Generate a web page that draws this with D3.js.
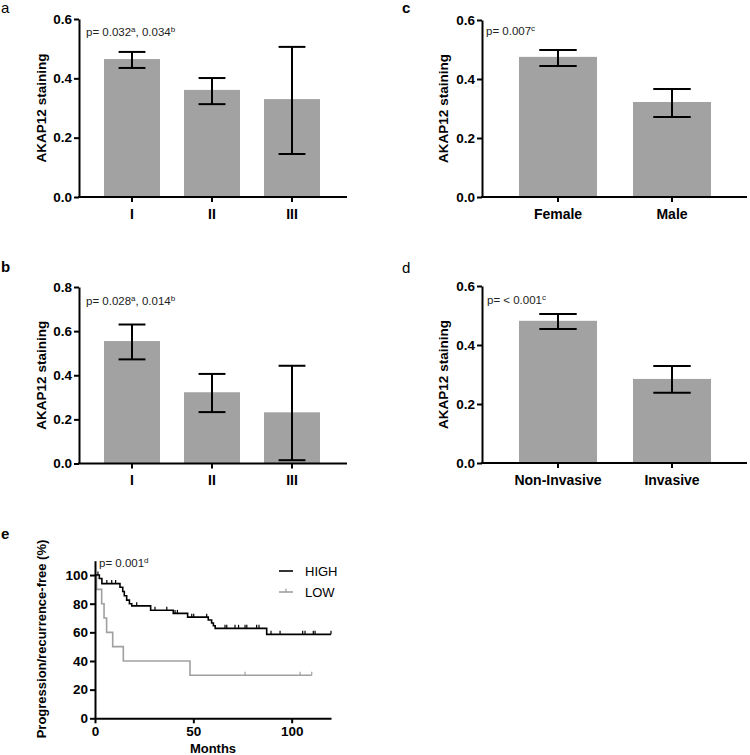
<!DOCTYPE html>
<html><head><meta charset="utf-8">
<script src="https://cdn.jsdelivr.net/npm/d3@7"></script>
<style>
body{margin:0;background:#fff;}
svg{display:block;font-family:"Liberation Sans",Arial,sans-serif;}
</style></head>
<body>
<svg id="chart" width="750" height="755"></svg>
<script>
// ---------- DATA ----------
const gradeCats = ["I", "II", "III"];
const aMean = [0.465, 0.361, 0.330];
const aUpper = [0.489, 0.401, 0.506];
const aLower = [0.435, 0.313, 0.145];
const aTicks = [0.0, 0.2, 0.4, 0.6];

const bMean = [0.555, 0.323, 0.232];
const bUpper = [0.630, 0.406, 0.443];
const bLower = [0.472, 0.233, 0.015];
const bTicks = [0.0, 0.2, 0.4, 0.6, 0.8];

const sexCats = ["Female", "Male"];
const cMean = [0.475, 0.322];
const cUpper = [0.498, 0.366];
const cLower = [0.444, 0.271];
const cTicks = [0.0, 0.2, 0.4, 0.6];

const invCats = ["Non-Invasive", "Invasive"];
const dMean = [0.482, 0.285];
const dUpper = [0.505, 0.329];
const dLower = [0.454, 0.238];
const dTicks = [0.0, 0.2, 0.4, 0.6];

// Kaplan-Meier: [month, % free] step points
const highSteps = [[0,100],[2.2,97.6],[3.5,94.0],[12.7,91.5],[14.1,88.5],[14.9,85.5],[16.1,82.5],[17.5,80.0],[18.7,78.5],[28.3,75.4],[39.8,73.2],[47.1,70.6],[57.6,68.6],[59.3,66.5],[60.2,64.6],[61.1,62.8],[87.3,58.6]];
const highEnd = 120;
const highCensor = [1.5,6,8.5,10.5,21.2,30.5,36.5,40.7,41.9,49.2,50.2,56.8,66.1,67,71.2,73,76.3,77.2,82.2,83.4,89.5,94.1,105.6,106.8,111,111.9,120];
const lowSteps = [[0,100],[0.8,90],[3.4,80],[4.6,70],[5.9,60],[9,50],[14.4,40],[48.3,30]];
const lowEnd = 110.2;
const lowCensor = [76.3,104.3,110.2];
const kmYTicks = [0,20,40,60,80,100];
const kmXTicks = [0,50,100];

// ---------- DRAW ----------
const svg = d3.select("#chart");
const BAR = "#a2a2a2";
const FONT_TICK = "13.5px";

function barPanel(o) {
  const g = svg.append("g");
  const y = d3.scaleLinear().domain(o.yDomain).range([o.y0, o.y1]);
  const x = d3.scaleBand().domain(o.cats).range(o.xRange).paddingInner(o.pi).paddingOuter(o.po);
  // bars
  g.selectAll("rect.bar").data(o.cats).join("rect")
    .attr("x", d => x(d)).attr("width", x.bandwidth())
    .attr("y", (d,i) => y(o.mean[i])).attr("height", (d,i) => y(0) - y(o.mean[i]))
    .attr("fill", BAR);
  // error bars
  const capW = x.bandwidth() * 0.48;
  o.cats.forEach((c,i) => {
    const cx = x(c) + x.bandwidth()/2;
    const eg = g.append("g").attr("stroke","#000").attr("stroke-width",2);
    eg.append("line").attr("x1",cx).attr("x2",cx).attr("y1",y(o.upper[i])).attr("y2",y(o.lower[i]));
    eg.append("line").attr("x1",cx-capW/2).attr("x2",cx+capW/2).attr("y1",y(o.upper[i])).attr("y2",y(o.upper[i]));
    eg.append("line").attr("x1",cx-capW/2).attr("x2",cx+capW/2).attr("y1",y(o.lower[i])).attr("y2",y(o.lower[i]));
  });
  // y axis
  const ya = g.append("g").attr("transform",`translate(${o.axisX},0)`)
    .call(d3.axisLeft(y).tickValues(o.ticks).tickFormat(d3.format(".1f")).tickSize(5).tickSizeOuter(0).tickPadding(2));
  ya.select(".domain").attr("stroke-width",2);
  ya.selectAll(".tick line").attr("stroke-width",2);
  ya.selectAll(".tick text").attr("font-size",FONT_TICK).attr("font-weight","bold").attr("font-family","Liberation Sans, Arial, sans-serif").attr("fill","#000");
  // x axis
  const xa = g.append("g").attr("transform",`translate(0,${y(0)})`)
    .call(d3.axisBottom(x).tickSize(5).tickSizeOuter(0).tickPadding(7));
  xa.select(".domain").remove();
  xa.selectAll(".tick line").attr("stroke-width",2);
  xa.selectAll(".tick text").attr("font-size","14px").attr("font-weight","bold").attr("font-family","Liberation Sans, Arial, sans-serif").attr("fill","#000");
  g.append("line").attr("x1",o.axisX-1).attr("x2",o.axisEnd).attr("y1",y(0)).attr("y2",y(0)).attr("stroke","#000").attr("stroke-width",2);
  // y label
  g.append("text").attr("transform",`translate(${o.labelX},${(y(o.yDomain[0])+y(o.yDomain[1]))/2}) rotate(-90)`)
    .attr("text-anchor","middle").attr("font-size","13.5px").attr("font-weight","bold").text("AKAP12 staining");
  // p text
  const pt = g.append("text").attr("x",o.pX).attr("y",o.pY).attr("font-size","11.5px").attr("fill","#222");
  o.pParts.forEach(p => {
    if (p.sup) pt.append("tspan").attr("font-size","8px").attr("dy",-4).text(p.t);
    else pt.append("tspan").attr("dy", p.back ? 4 : 0).text(p.t);
  });
  // panel letter
  g.append("text").attr("x",o.letterX).attr("y",o.letterY).attr("font-size","15px")
    .attr("font-weight",o.letterBold?"bold":"normal").text(o.letter);
}

barPanel({cats:gradeCats, mean:aMean, upper:aUpper, lower:aLower, ticks:aTicks, yDomain:[0,0.6], y0:197, y1:19,
  xRange:[92,332], pi:0.3, po:0.15, axisX:79, axisEnd:347, labelX:46,
  pX:86, pY:36, pParts:[{t:"p= 0.032"},{t:"a",sup:true},{t:", 0.034",back:true},{t:"b",sup:true}],
  letter:"a", letterX:1, letterY:13, letterBold:false});

barPanel({cats:gradeCats, mean:bMean, upper:bUpper, lower:bLower, ticks:bTicks, yDomain:[0,0.8], y0:463.5, y1:287,
  xRange:[92,332], pi:0.3, po:0.15, axisX:79, axisEnd:347, labelX:46,
  pX:86, pY:305, pParts:[{t:"p= 0.028"},{t:"a",sup:true},{t:", 0.014",back:true},{t:"b",sup:true}],
  letter:"b", letterX:1, letterY:272, letterBold:true});

barPanel({cats:sexCats, mean:cMean, upper:cUpper, lower:cLower, ticks:cTicks, yDomain:[0,0.6], y0:197, y1:20,
  xRange:[501,729], pi:0.316, po:0.158, axisX:482, axisEnd:747, labelX:448,
  pX:486, pY:35, pParts:[{t:"p= 0.007"},{t:"c",sup:true}],
  letter:"c", letterX:402, letterY:13, letterBold:true});

barPanel({cats:invCats, mean:dMean, upper:dUpper, lower:dLower, ticks:dTicks, yDomain:[0,0.6], y0:463, y1:286,
  xRange:[501,729], pi:0.316, po:0.158, axisX:482, axisEnd:747, labelX:448,
  pX:487, pY:304, pParts:[{t:"p= < 0.001"},{t:"c",sup:true}],
  letter:"d", letterX:402, letterY:273, letterBold:false});

// ---------- KM panel ----------
(function(){
  const g = svg.append("g");
  const x = d3.scaleLinear().domain([0,120]).range([95,331]);
  const y = d3.scaleLinear().domain([0,110]).range([718.3,560.7]);
  function stepFn(steps, t){ let v = steps[0][1]; for (const s of steps) if (s[0] <= t) v = s[1]; return v; }
  function path(steps, end){
    const pts = steps.concat([[end, steps[steps.length-1][1]]]);
    return d3.line().x(d=>x(d[0])).y(d=>y(d[1])).curve(d3.curveStepAfter)(pts);
  }
  function curve(steps, end, cens, color){
    g.append("path").attr("d",path(steps,end)).attr("fill","none").attr("stroke",color).attr("stroke-width",1.6);
    g.selectAll(null).data(cens).join("line")
      .attr("x1",d=>x(d)).attr("x2",d=>x(d))
      .attr("y1",d=>y(stepFn(steps,d))).attr("y2",d=>y(stepFn(steps,d))-3.5)
      .attr("stroke",color).attr("stroke-width",1.2);
  }
  curve(lowSteps, lowEnd, lowCensor, "#a0a0a0");
  curve(highSteps, highEnd, highCensor, "#000");

  const ya = g.append("g").attr("transform","translate(95,0)")
    .call(d3.axisLeft(y).tickValues(kmYTicks).tickSize(5).tickSizeOuter(0).tickPadding(2));
  ya.select(".domain").attr("stroke-width",2);
  ya.selectAll(".tick line").attr("stroke-width",2);
  ya.selectAll(".tick text").attr("font-size",FONT_TICK).attr("font-weight","bold").attr("font-family","Liberation Sans, Arial, sans-serif").attr("fill","#000");
  const xa = g.append("g").attr("transform","translate(0,718.3)")
    .call(d3.axisBottom(x).tickValues(kmXTicks).tickSize(5).tickSizeOuter(0).tickPadding(3));
  xa.select(".domain").attr("stroke-width",2);
  xa.selectAll(".tick line").attr("stroke-width",2);
  xa.selectAll(".tick text").attr("font-size",FONT_TICK).attr("font-weight","bold").attr("font-family","Liberation Sans, Arial, sans-serif").attr("fill","#000");

  g.append("text").attr("x",213).attr("y",753).attr("text-anchor","middle").attr("font-size","13px").attr("font-weight","bold").text("Months");
  g.append("text").attr("transform","translate(46,639) rotate(-90)").attr("text-anchor","middle")
    .attr("font-size","13px").attr("font-weight","bold").text("Progression/recurrence-free (%)");

  const pt = g.append("text").attr("x",99).attr("y",567).attr("font-size","11.5px").attr("fill","#222");
  pt.append("tspan").text("p= 0.001");
  pt.append("tspan").attr("font-size","8px").attr("dy",-4).text("d");

  // legend
  g.append("line").attr("x1",279).attr("x2",293).attr("y1",571).attr("y2",571).attr("stroke","#000").attr("stroke-width",1.6);
  g.append("text").attr("x",305).attr("y",576).attr("font-size","13px").text("HIGH");
  g.append("line").attr("x1",279).attr("x2",293).attr("y1",592).attr("y2",592).attr("stroke","#a0a0a0").attr("stroke-width",1.6);
  g.append("line").attr("x1",286).attr("x2",286).attr("y1",592).attr("y2",588.5).attr("stroke","#a0a0a0").attr("stroke-width",1.2);
  g.append("text").attr("x",305).attr("y",597).attr("font-size","13px").text("LOW");

  g.append("text").attr("x",1).attr("y",539).attr("font-size","15px").attr("font-weight","bold").text("e");
})();
</script>
</body></html>
